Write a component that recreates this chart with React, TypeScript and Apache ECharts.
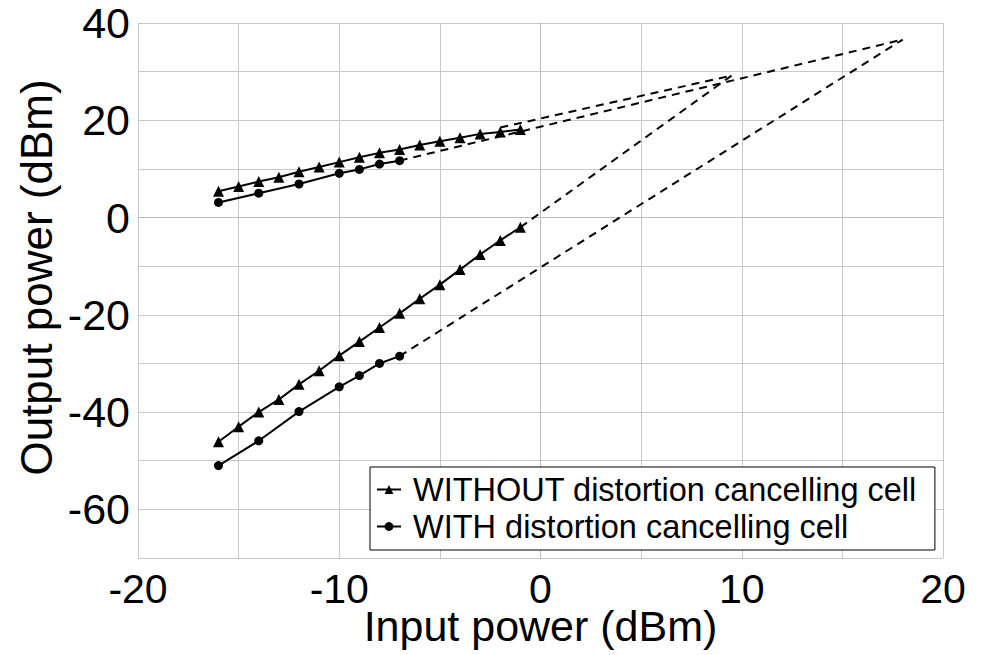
import React, { useEffect, useRef } from "react";
import * as echarts from "echarts";

const xWithout = [-16, -15, -14, -13, -12, -11, -10, -9, -8, -7, -6, -5, -4, -3, -2, -1];
const withoutFund = [5.4, 6.4, 7.4, 8.3, 9.4, 10.4, 11.4, 12.4, 13.3, 14.0, 14.9, 15.7, 16.4, 17.2, 17.6, 18.1];
const withoutIMD = [-46.1, -43.0, -40.0, -37.4, -34.3, -31.5, -28.4, -25.5, -22.6, -19.7, -16.7, -13.8, -10.7, -7.6, -4.7, -2.0];

const xWith = [-16, -14, -12, -10, -9, -8, -7];
const withFund = [3.1, 5.0, 6.9, 9.1, 9.9, 11.0, 11.7];
const withIMD = [-51.0, -45.9, -39.9, -34.8, -32.5, -30.0, -28.5];

const withoutFundExt = [[-2, 18.5], [9.5, 29.2]];
const withoutIMDExt = [[-1, -2.0], [9.5, 29.2]];
const withFundExt = [[-7, 11.7], [18, 36.6]];
const withIMDExt = [[-7, -28.5], [18, 36.6]];

const NAME_WITHOUT = "WITHOUT distortion cancelling cell";
const NAME_WITH = "WITH distortion cancelling cell";

const FONT = "'Liberation Sans', Arial, sans-serif";

function zip(xs: number[], ys: number[]) {
  return xs.map((x, i) => [x, ys[i]]);
}

export default function App() {
  const ref = useRef<HTMLDivElement>(null);
  useEffect(() => {
    document.body.style.margin = "0";
    const chart = echarts.init(ref.current!, undefined, { renderer: "svg" });
    const solid = (name: string, data: number[][], symbol: string, size: number) => ({
      type: "line",
      name,
      data,
      symbol,
      symbolSize: size,
      showSymbol: true,
      lineStyle: { color: "#000", width: 2 },
      itemStyle: { color: "#000" },
      z: 3,
    });
    const dashed = (data: number[][]) => ({
      type: "line",
      name: "ext",
      data,
      symbol: "none",
      lineStyle: { color: "#000", width: 2, type: [8, 6] },
      z: 2,
    });
    chart.setOption({
      animation: false,
      backgroundColor: "#fff",
      textStyle: { fontFamily: FONT },
      grid: {
        left: 138,
        right: 42,
        top: 23,
        bottom: 97,
        containLabel: false,
        outerBoundsMode: "none",
      },
      legend: {
        data: [NAME_WITHOUT, NAME_WITH],
        orient: "vertical",
        left: 370,
        top: 467,
        backgroundColor: "#fff",
        borderColor: "#000",
        borderWidth: 1,
        padding: [6, 18, 7, 6],
        itemGap: 4,
        itemWidth: 24,
        itemHeight: 11,
        textStyle: { fontSize: 32.5, color: "#000", fontFamily: FONT, padding: [0, 0, 0, 7] },
      },
      xAxis: {
        type: "value",
        min: -20,
        max: 20,
        interval: 5,
        name: "Input power (dBm)",
        nameLocation: "middle",
        nameGap: 50,
        nameMoveOverlap: false,
        nameTextStyle: { fontSize: 43, lineHeight: 36, color: "#000", fontFamily: FONT },
        axisLine: { lineStyle: { color: "#bdbdbd", width: 1 } },
        axisTick: { show: false },
        axisLabel: {
          fontSize: 41,
          lineHeight: 28,
          color: "#000",
          fontFamily: FONT,
          margin: 17,
          formatter: (v: number) => (v % 10 === 0 ? String(v) : ""),
        },
        splitLine: { lineStyle: { color: "#c8c8c8", width: 1 } },
      },
      yAxis: {
        type: "value",
        min: -70,
        max: 40,
        interval: 10,
        name: "Output power (dBm)",
        nameLocation: "middle",
        nameGap: 80,
        nameMoveOverlap: false,
        nameTextStyle: { fontSize: 44, color: "#000", fontFamily: FONT, padding: [0, 0, 0, 26] },
        axisLine: { show: true, lineStyle: { color: "#bdbdbd", width: 1 } },
        axisTick: { show: false },
        axisLabel: {
          fontSize: 43,
          color: "#000",
          fontFamily: FONT,
          margin: 8,
          formatter: (v: number) => (v % 20 === 0 ? String(v) : ""),
        },
        splitLine: { lineStyle: { color: "#c8c8c8", width: 1 } },
      },
      series: [
        dashed(withoutFundExt),
        dashed(withoutIMDExt),
        dashed(withFundExt),
        dashed(withIMDExt),
        solid(NAME_WITHOUT, zip(xWithout, withoutFund), "triangle", 11),
        solid(NAME_WITHOUT, zip(xWithout, withoutIMD), "triangle", 11),
        solid(NAME_WITH, zip(xWith, withFund), "circle", 9),
        solid(NAME_WITH, zip(xWith, withIMD), "circle", 9),
      ],
    });
    return () => chart.dispose();
  }, []);
  return (
    <div
      ref={ref}
      style={{ position: "fixed", left: 0, top: 0, width: 985, height: 655 }}
    />
  );
}
